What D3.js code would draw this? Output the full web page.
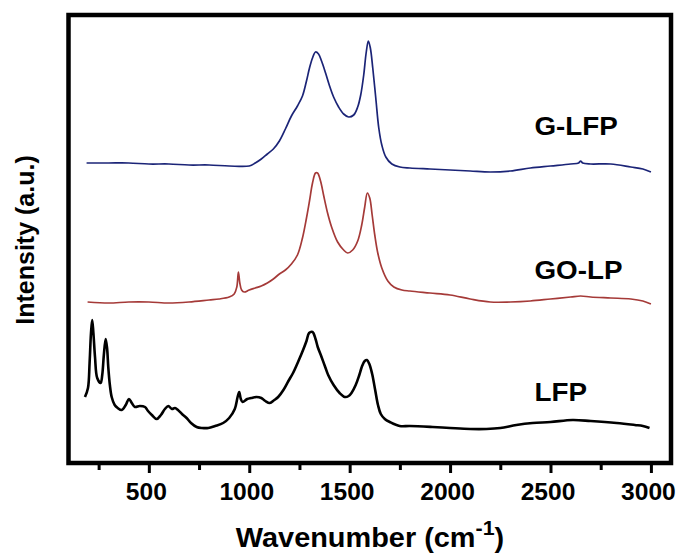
<!DOCTYPE html>
<html>
<head>
<meta charset="utf-8">
<script src="https://cdn.jsdelivr.net/npm/d3@7"></script>
<style>
  body { margin: 0; background: #fff; }
  svg { display: block; font-family: "Liberation Sans", Arial, sans-serif; font-weight: bold; }
</style>
</head>
<body>
<svg id="chart" width="686" height="555"></svg>
<script>
// Raman spectra (wavenumber cm-1, intensity a.u. with offsets)
const glfp = [
    [190, 300], [300, 300], [400, 300], [500, 299], [600, 299], [700, 298], [800, 298], [900, 297],
    [1000, 297], [1030, 300], [1060, 304], [1090, 309], [1120, 314], [1150, 322], [1180, 334],
    [1210, 347], [1240, 357], [1265, 367], [1285, 382], [1300, 395], [1315, 405], [1330, 411],
    [1345, 409], [1360, 402], [1380, 390], [1400, 377], [1420, 366], [1445, 356], [1470, 349],
    [1495, 346], [1520, 348], [1540, 356], [1555, 368], [1570, 388], [1582, 410], [1593, 422],
    [1603, 415], [1615, 395], [1630, 365], [1645, 335], [1660, 318], [1680, 306], [1710, 299],
    [1750, 296], [1800, 295], [1900, 294], [2000, 293], [2100, 292], [2200, 291], [2300, 292],
    [2400, 295], [2500, 297], [2600, 299], [2640, 300], [2650, 302], [2660, 300], [2700, 299],
    [2800, 299], [2900, 296], [2960, 294], [3000, 291]
];

const golp = [
    [195, 161], [300, 160], [400, 161], [500, 161], [600, 160], [700, 161], [800, 163], [850, 164],
    [900, 166], [925, 169], [938, 176], [946, 191], [953, 180], [962, 173], [975, 171], [1000, 173],
    [1030, 175], [1060, 177], [1090, 180], [1120, 184], [1150, 189], [1180, 193], [1210, 199],
    [1240, 208], [1265, 225], [1285, 245], [1300, 262], [1315, 280], [1330, 290], [1340, 290],
    [1355, 282], [1370, 268], [1390, 250], [1410, 236], [1440, 221], [1470, 213], [1490, 210],
    [1515, 213], [1540, 222], [1560, 238], [1575, 256], [1588, 270], [1600, 265], [1612, 248],
    [1625, 228], [1640, 210], [1660, 195], [1690, 182], [1720, 176], [1760, 173], [1800, 172],
    [1900, 170], [2000, 168], [2100, 164], [2200, 161], [2300, 161], [2400, 162], [2500, 164],
    [2600, 166], [2650, 167], [2700, 166], [2800, 165], [2900, 164], [2960, 162], [3000, 159]
];

const lfp = [
    [182, 66], [197, 75], [205, 100], [212, 130], [218, 143], [224, 130], [232, 106], [243, 85],
    [260, 80], [268, 88], [276, 108], [285, 124], [292, 115], [298, 96], [306, 78], [315, 66],
    [330, 58], [345, 55], [365, 53], [385, 58], [401, 64], [415, 60], [431, 56], [455, 57],
    [481, 56], [496, 52], [515, 48], [539, 44], [560, 48], [580, 54], [597, 57], [615, 54],
    [630, 55], [645, 53], [665, 49], [688, 45], [710, 40], [738, 36], [765, 35], [796, 35],
    [830, 37], [870, 40], [900, 45], [928, 54], [942, 66], [950, 71], [958, 64], [967, 61],
    [990, 64], [1010, 65], [1036, 66], [1060, 65], [1080, 62], [1102, 60], [1125, 63], [1144, 66],
    [1170, 73], [1195, 82], [1218, 90], [1245, 102], [1268, 113], [1285, 122], [1298, 130],
    [1315, 131], [1330, 124], [1341, 116], [1360, 106], [1380, 95], [1393, 88], [1420, 78],
    [1450, 70], [1476, 66], [1495, 67], [1509, 70], [1530, 78], [1548, 88], [1562, 97],
    [1575, 102], [1586, 103], [1598, 99], [1612, 89], [1627, 73], [1641, 58], [1655, 49],
    [1675, 44], [1700, 41], [1749, 37], [1800, 37], [1913, 36], [2000, 35], [2100, 34],
    [2181, 34], [2250, 35], [2330, 38], [2411, 40], [2500, 41], [2610, 43], [2700, 42],
    [2829, 40], [2920, 38], [2960, 37], [2993, 35]
];

const seriesNames = ["G-LFP", "GO-LP", "LFP"];
const seriesColors = ["#1b2477", "#a53a38", "#000000"];
const labelIntensity = [328, 184, 62];   // where each name sits (baseline), a.u.
const labelWavenumber = 2420;

const majorTicks = [500, 1000, 1500, 2000, 2500, 3000];
const minorTicks = [250, 750, 1250, 1750, 2250, 2750];

const margin = { top: 15, right: 15, bottom: 92, left: 68.5 };
const W = 686, H = 555;

const svg = d3.select("#chart");

const x = d3.scaleLinear()
    .domain([100, 3100])
    .range([margin.left, W - margin.right]);

const y = d3.scaleLinear()
    .domain([0, 448])
    .range([H - margin.bottom, margin.top]);

const line = d3.line()
    .x(d => x(d[0]))
    .y(d => y(d[1]))
    .curve(d3.curveCatmullRom.alpha(0.5));

[glfp, golp, lfp].forEach((s, i) => {
    svg.append("path")
        .datum(s)
        .attr("fill", "none")
        .attr("stroke", seriesColors[i])
        .attr("stroke-width", i == 2 ? 2.6 : 1.7)
        .attr("stroke-linejoin", "round")
        .attr("d", line);
});

// series names
seriesNames.forEach((n, i) => {
    svg.append("text")
        .attr("transform", `translate(${x(labelWavenumber)},${y(labelIntensity[i])}) scale(1.07,1)`)
        .attr("font-size", 26)
        .attr("fill", "#000")
        .text(n);
});

// axes (minor ticks first, then major with labels)
let bottom = H - margin.bottom;
svg.append("g")
    .attr("transform", `translate(0,${bottom})`)
    .call(d3.axisBottom(x).tickValues(minorTicks).tickSize(7).tickFormat(""))
    .call(g => g.select(".domain").remove())
    .call(g => g.selectAll("line").attr("stroke", "#000").attr("stroke-width", 3));

svg.append("g")
    .attr("transform", `translate(0,${bottom})`)
    .call(d3.axisBottom(x).tickValues(majorTicks).tickSize(10).tickPadding(11).tickFormat(d3.format("d")))
    .call(g => g.select(".domain").remove())
    .call(g => g.selectAll("line").attr("stroke", "#000").attr("stroke-width", 3))
    .call(g => g.selectAll("text")
        .attr("fill", "#000")
        .attr("font-size", 23)
        .attr("font-family", "Liberation Sans, Arial, sans-serif")
        .attr("font-weight", "bold")
        .attr("transform", "translate(-3,0) scale(1.07,1)"));

// frame
svg.append("rect")
    .attr("x", margin.left)
    .attr("y", margin.top)
    .attr("width", W - margin.right - margin.left)
    .attr("height", H - margin.bottom - margin.top)
    .attr("fill", "none")
    .attr("stroke", "#000")
    .attr("stroke-width", 4.5);

// axis titles
let xt = svg.append("text")
    .attr("transform", `translate(370,547) scale(1.07,1)`)
    .attr("text-anchor", "middle")
    .attr("font-size", 27)
    .attr("fill", "#000");
xt.append("tspan").text("Wavenumber (cm");
xt.append("tspan").attr("dy", -12).attr("font-size", 20).text("-1");
xt.append("tspan").attr("dy", 12).text(")");

svg.append("text")
    .attr("transform", "translate(34,240) rotate(-90)")
    .attr("text-anchor", "middle")
    .attr("font-size", 25)
    .attr("fill", "#000")
    .text("Intensity (a.u.)");
</script>
</body>
</html>
